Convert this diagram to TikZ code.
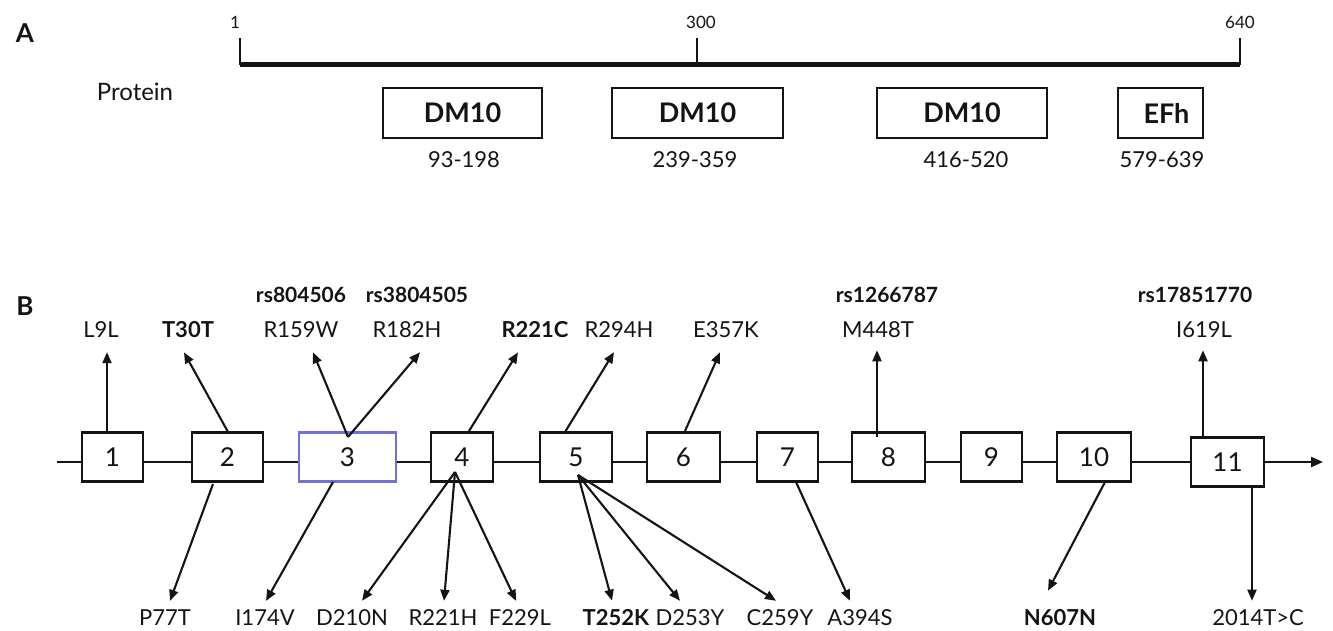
\documentclass[tikz,border=0pt]{standalone}
\usepackage{fontspec}
\setmainfont{Lato}
\usetikzlibrary{arrows.meta,calc}
\definecolor{exblue}{RGB}{112,112,215}
\definecolor{ink}{RGB}{20,20,20}
\begin{document}
\begin{tikzpicture}[x=1pt,y=-1pt, color=ink,
  lab/.style={font=\fontsize{22}{24}\selectfont, inner sep=0pt},
  blab/.style={font=\bfseries\fontsize{22}{24}\selectfont, inner sep=0pt},
  rslab/.style={font=\bfseries\fontsize{21}{24}\selectfont, inner sep=0pt},
  rnglab/.style={font=\fontsize{22}{24}\selectfont, inner sep=0pt},
  ticklab/.style={font=\fontsize{17}{18}\selectfont, inner sep=0pt},
  panel/.style={font=\bfseries\fontsize{26}{28}\selectfont, inner sep=0pt},
  exon/.style={draw, line width=2.3pt, fill=white, font=\fontsize{26}{28}\selectfont, inner sep=0pt, minimum height=49pt},
  dom/.style={draw, line width=2.3pt, font=\bfseries\fontsize{27}{28}\selectfont, inner sep=0pt, minimum height=50pt},
  exline/.style={line width=2.2pt},
  arr/.style={line width=2.1pt, -{Triangle[length=11pt,width=9pt]}},
]
\useasboundingbox (0,0) rectangle (1333,631);

% ---------------- Panel A ----------------
\node[panel] (A) at (25,33) {A};
\coordinate (r1) at (240,65);
\coordinate (r300) at (697,65);
\coordinate (r640) at (1240,65);
\draw[line width=5pt] (r1) -- (r640);
\node[ticklab] (t1) at (235,22) {1};
\node[ticklab] (t300) at (701,22) {300};
\node[ticklab] (t640) at (1240,22) {640};
\draw[line width=2.2pt] (r1) -- ($(t1.south)+(5,10)$);
\draw[line width=2.2pt] (r300) -- ($(t300.south)+(-4,10)$);
\draw[line width=2.2pt] (r640) -- ($(t640.south)+(0,10)$);

\node[lab, font=\fontsize{24}{26}\selectfont] (prot) at (135,92) {Protein};

\node[dom, minimum width=159pt] (d1) at (462.5,113) {DM10};
\node[dom, minimum width=171pt] (d2) at (697.5,113) {DM10};
\node[dom, minimum width=170pt] (d3) at (962,113) {DM10};
\node[dom, minimum width=85pt] (d4) at (1160.5,113) {\hspace*{12pt}EFh};
\node[rnglab] (g1) at (464,160) {93-198};
\node[rnglab] (g2) at (695,160) {239-359};
\node[rnglab] (g3) at (966,160) {416-520};
\node[rnglab] (g4) at (1162,160) {579-639};

% ---------------- Panel B ----------------
\node[panel] (B) at (25,306) {B};

% exons
\node[exon, minimum width=61pt] (b1) at (112.5,457) {1};
\node[exon, minimum width=71pt] (b2) at (227.5,457) {2};
\node[exon, draw=exblue, minimum width=97pt] (b3) at (347.5,457) {3};
\node[exon, minimum width=62pt] (b4) at (462,457) {4};
\node[exon, minimum width=72pt] (b5) at (576,457) {5};
\node[exon, minimum width=73pt] (b6) at (683.5,457) {6};
\node[exon, minimum width=61pt] (b7) at (787.5,457) {7};
\node[exon, minimum width=73pt] (b8) at (888.5,457) {8};
\node[exon, minimum width=61pt] (b9) at (991.5,457) {9};
\node[exon, minimum width=74pt] (b10) at (1094,457) {10};
\node[exon, minimum width=73pt] (b11) at (1227.5,462) {11};

\coordinate (lstart) at (57,462);
\coordinate (lend) at (1323,462);
\draw[exline] (lstart) -- (b1.west |- lstart);
\foreach \i/\j in {1/2,2/3,3/4,4/5,5/6,6/7,7/8,8/9,9/10,10/11}
  \draw[exline] (b\i.east |- lstart) -- (b\j.west |- lstart);
\draw[exline, -{Triangle[length=12pt,width=10pt]}] (b11.east |- lend) -- (lend);

% top labels
\node[rslab] (rs1) at (301,295) {rs804506};
\node[rslab] (rs2) at (417,295) {rs3804505};
\node[rslab] (rs3) at (887,295) {rs1266787};
\node[rslab] (rs4) at (1195,295) {rs17851770};

\node[lab] (L9L) at (101,330) {L9L};
\node[blab] (T30T) at (188,330) {T30T};
\node[lab] (R159W) at (301,330) {R159W};
\node[lab] (R182H) at (407,330) {R182H};
\node[blab] (R221C) at (535,330) {R221C};
\node[lab] (R294H) at (619,330) {R294H};
\node[lab] (E357K) at (726,330) {E357K};
\node[lab] (M448T) at (878,330) {M448T};
\node[lab] (I619L) at (1204,330) {I619L};

% bottom labels
\node[lab] (P77T) at (165,618) {P77T};
\node[lab] (I174V) at (265,618) {I174V};
\node[lab] (D210N) at (352,618) {D210N};
\node[lab] (R221H) at (443,618) {R221H};
\node[lab] (F229L) at (520,618) {F229L};
\node[blab] (T252K) at (616,618) {T252K};
\node[lab] (D253Y) at (690,618) {D253Y};
\node[lab] (C259Y) at (780,618) {C259Y};
\node[lab] (A394S) at (860,618) {A394S};
\node[blab] (N607N) at (1060,618) {N607N};
\node[lab] (T2014) at (1258,618) {2014T>C};

% origins of connectors
\coordinate (o1) at (107,434);
\coordinate (o2t) at (228,432);
\coordinate (o3t) at (348,437);
\coordinate (o4t) at (469,431);
\coordinate (o5t) at (565,432);
\coordinate (o6t) at (685,431);
\coordinate (o8t) at (877,437);
\coordinate (o11t) at (1203,438);
\coordinate (o2b) at (213,484);
\coordinate (o3b) at (333,482);
\coordinate (o4b) at (455,472);
\coordinate (o5b) at (578,475);
\coordinate (o7b) at (796,482);
\coordinate (o10b) at (1105,482);
\coordinate (o11b) at (1252,487);

% upward connectors
\draw[arr] (o1) -- ($(L9L.south)+(6,14)$);
\draw[arr] (o2t) -- ($(T30T.south)+(-4,14)$);
\draw[arr] (o3t) -- ($(R159W.south)+(12,14)$);
\draw[arr] (o3t) -- ($(R182H.south)+(13,14)$);
\draw[arr] (o4t) -- ($(R221C.south)+(-17,14)$);
\draw[arr] (o5t) -- ($(R294H.south)+(-5,14)$);
\draw[arr] (o6t) -- ($(E357K.south)+(-6,14)$);
\draw[arr] (o8t) -- ($(M448T.south)+(-1,12)$);
\draw[arr] (o11t) -- ($(I619L.south)+(-1,12)$);

% downward connectors
\draw[arr] (o2b) -- ($(P77T.north)+(5,-9)$);
\draw[arr] (o3b) -- ($(I174V.north)+(1,-9)$);
\draw[arr] (o4b) -- ($(D210N.north)+(10,-9)$);
\draw[arr] (o4b) -- ($(R221H.north)+(1,-9)$);
\draw[arr] (o4b) -- ($(F229L.north)+(-4,-9)$);
\draw[arr] (o5b) -- ($(T252K.north)+(-4,-9)$);
\draw[arr] (o5b) -- ($(D253Y.north)+(-10,-9)$);
\draw[arr] (o5b) -- ($(C259Y.north)+(-4,-9)$);
\draw[arr] (o7b) -- ($(A394S.north)+(-10,-9)$);
\draw[arr] (o10b) -- ($(N607N.north)+(-12,-19)$);
\draw[arr] (o11b) -- ($(T2014.north)+(-6,-9)$);
\end{tikzpicture}
\end{document}
